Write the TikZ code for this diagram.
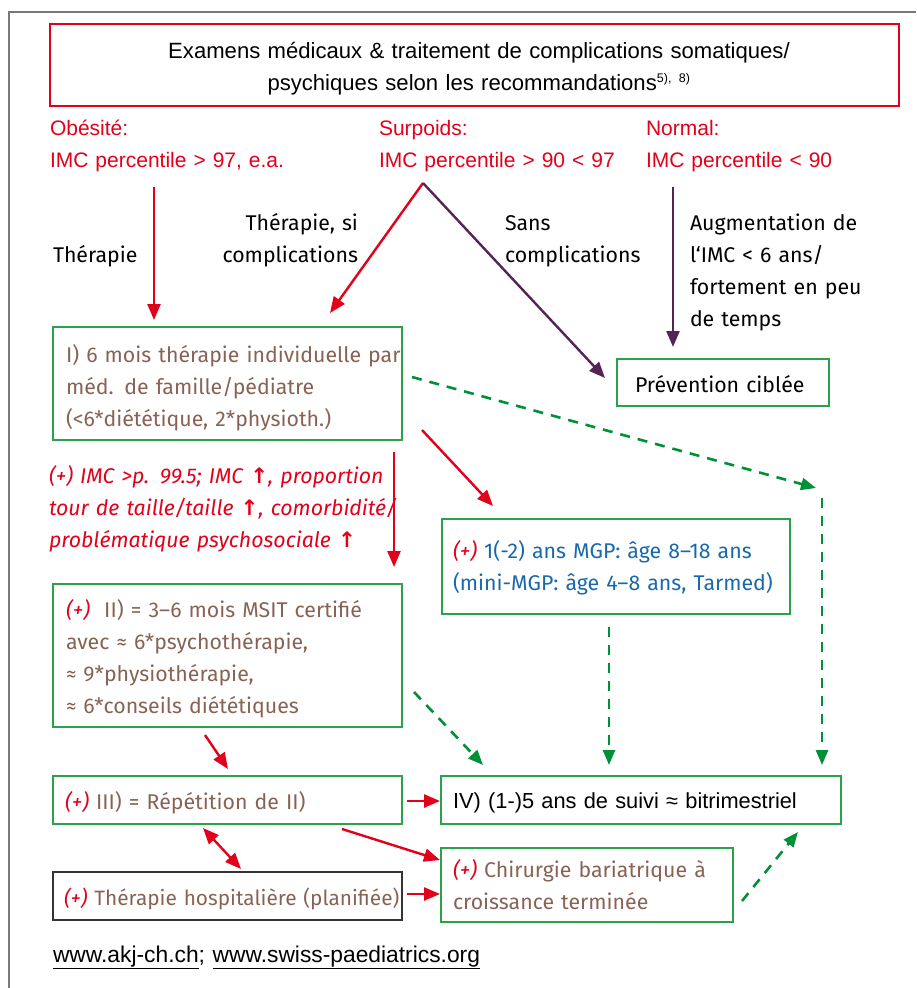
\documentclass[tikz,border=0pt]{standalone}
\usepackage{fontspec}
\setmainfont{Liberation Sans}
\newfontfamily\boxfont{Fira Sans}
\newfontfamily\symfont{DejaVu Sans}
\usetikzlibrary{arrows.meta,calc}
\definecolor{cred}{RGB}{226,0,26}
\definecolor{cbrown}{RGB}{136,98,84}
\definecolor{cblue}{RGB}{25,105,170}
\definecolor{cgreen}{RGB}{45,160,75}
\definecolor{cdgreen}{RGB}{0,145,55}
\definecolor{cpurple}{RGB}{85,35,85}
\definecolor{cframe}{RGB}{120,120,120}
\newcommand{\plus}{{\color{cred}\itshape(+)}}
\newcommand{\uparr}{{\symfont\bfseries ↑}}
\begin{document}
\begin{tikzpicture}[x=1pt,y=-1pt,
  every node/.style={inner sep=0pt,outer sep=0pt},
  tip/.style={-{Triangle[length=16pt,width=13pt]}},
  redarr/.style={draw=cred,line width=2.4pt,tip},
  purarr/.style={draw=cpurple,line width=2.4pt,tip},
  gdash/.style={draw=cdgreen,line width=2.6pt,dash pattern=on 10pt off 8pt,-{Triangle[length=15pt,width=12pt,sep=0pt]}},
  gbox/.style={draw=cgreen,line width=1.4pt},
  kbox/.style={draw=black!80,line width=1.4pt},
  rbox/.style={draw=cred,line width=1.4pt},
  hfont/.style={font=\fontsize{21}{32}\selectfont},
  bfont/.style={font=\boxfont\fontsize{21.3}{32}\selectfont},
  lbl/.style={bfont,anchor=base west,align=left,text width=440pt},
  lblr/.style={bfont,anchor=base east,align=right,text width=300pt},
  hlbl/.style={hfont,anchor=base west,align=left,text width=300pt,text=cred}
]
\useasboundingbox (0,0) rectangle (916,988);
% outer frame
\draw[cframe,line width=2pt] (916,12) -- (9,12) -- (9,988);
% boxes
\node[rbox,minimum width=849pt,minimum height=82pt] (title) at (474.5,65) {};
\node[gbox,minimum width=349pt,minimum height=113pt] (b1) at (227.5,383.5) {};
\node[gbox,minimum width=212pt,minimum height=47pt] (prev) at (723,382.5) {};
\node[gbox,minimum width=348pt,minimum height=95pt] (mgp) at (616,566.5) {};
\node[gbox,minimum width=349pt,minimum height=143pt] (b2) at (227.5,655.5) {};
\node[gbox,minimum width=349pt,minimum height=48pt] (b3) at (227.5,800) {};
\node[gbox,minimum width=400pt,minimum height=48pt] (b4) at (641,800) {};
\node[kbox,minimum width=349pt,minimum height=48pt] (hosp) at (227.5,896) {};
\node[gbox,minimum width=292pt,minimum height=74pt] (chir) at (587,885) {};
% title text
\node[font=\fontsize{22.1}{32}\selectfont,anchor=base,align=center,text width=820pt] (ttl) at (479,58)
  {Examens médicaux \& traitement de complications somatiques/\\psychiques selon les recommandations\textsuperscript{\fontsize{12.5}{12}\selectfont 5), 8)}};
% category labels
\node[hlbl] (obes) at (50,135) {Obésité:\\IMC percentile > 97, e.a.};
\node[hlbl] (surp) at (379,135) {Surpoids:\\IMC percentile > 90 < 97};
\node[hlbl] (norm) at (646,135) {Normal:\\IMC percentile < 90};
% arrow labels
\node[lbl] (lther) at (53,262) {Thérapie};
\node[lblr] (lthsi) at (358,230) {Thérapie, si\\complications};
\node[lbl] (lsans) at (505,230) {Sans\\complications};
\node[lbl] (laug) at (690,230) {Augmentation de\\l‘IMC < 6 ans/\\fortement en peu\\de temps};
% box texts
\node[lbl,text=cbrown] (tb1) at (66,362) {I) 6 mois thérapie individuelle par\\méd. de famille/pédiatre\\(<6*diététique, 2*physioth.)};
\node[lbl] (tprev) at (635,392) {Prévention ciblée};
\node[lbl,text=cred,font=\boxfont\itshape\fontsize{21.3}{32}\selectfont] (tcrit) at (49,483)
  {(+) IMC >p. 99.5; IMC \uparr, proportion\\tour de taille/taille \uparr, comorbidité/\\problématique psychosociale \uparr};
\node[lbl,text=cblue] (tmgp) at (453,558) {\plus{} 1(-2) ans MGP: âge 8–18 ans\\(mini-MGP: âge 4–8 ans, Tarmed)};
\node[lbl,text=cbrown] (tb2) at (66,617) {\plus{}\ \ II) = 3–6 mois MSIT certifié\\avec ≈ 6*psychothérapie,\\≈ 9*physiothérapie,\\≈ 6*conseils diététiques};
\node[lbl,text=cbrown] (tb3) at (65,809) {\plus{} III) = Répétition de II)};
\node[lbl,text=cbrown,font=\boxfont\fontsize{20.8}{32}\selectfont] (thosp) at (64,905) {\plus{} Thérapie hospitalière (planifiée)};
\node[font=\fontsize{21.8}{32}\selectfont,anchor=base west,align=left,text width=440pt] (tb4) at (453,808) {IV) (1-)5 ans de suivi ≈ bitrimestriel};
\node[lbl,text=cbrown] (tchir) at (453,877) {\plus{} Chirurgie bariatrique à\\croissance terminée};
% footer
\node[anchor=base west,align=left,text width=600pt,font=\fontsize{22.8}{32}\selectfont] (foot) at (53,962) {\underline{www.akj-ch.ch}; \underline{www.swiss-paediatrics.org}};
% connectors
\coordinate (obs) at (154,187);
\coordinate (apex) at (423,183);
\coordinate (nrm) at (673,187);
\coordinate (gd1) at (816,488);
\coordinate (gd2) at (822,498);
\draw[redarr,shorten >=7pt] (obs) -- (obs |- b1.north);
\draw[redarr] (apex) -- ($(b1.north)+(102.5,-14)$);
\draw[purarr] (apex) -- ($(prev.west)+(-12,-4.5)$);
\draw[purarr,shorten >=12pt] (nrm) -- (nrm |- prev.north);
\draw[gdash] ($(b1.east)+(10,-6.5)$) -- (gd1);
\draw[gdash,shorten >=11pt] (gd2) -- (gd2 |- b4.north);
\draw[redarr] ($(b1.south east)+(20,-10)$) -- ($(mgp.north west)+(51,-13)$);
\draw[redarr] ($(b1.south east)+(-8,12)$) -- ($(b2.north east)+(-8,-17)$);
\draw[gdash] ($(mgp.south)+(-7,13)$) -- ($(b4.north)+(-32,-11)$);
\draw[gdash] ($(b2.east)+(12,36.5)$) -- ($(b4.north west)+(42,-11)$);
\draw[redarr] ($(b2.south)+(-22.5,8)$) -- ($(b3.north)+(0.5,-7)$);
\draw[redarr] ($(b3.east)+(5,1)$) -- ($(b4.west)+(-1,1)$);
\draw[redarr] ($(b3.south east)+(-60,5)$) -- ($(chir.west)+(-1,-25)$);
\draw[draw=cred,line width=2.4pt,{Triangle[length=16pt,width=13pt]}-{Triangle[length=16pt,width=13pt]}] ($(b3.south)+(-24.5,4)$) -- ($(hosp.north)+(13.5,-3)$);
\draw[redarr] ($(hosp.east)+(5,-2)$) -- ($(chir.west)+(-1,9)$);
\draw[gdash] ($(chir.east)+(9,16)$) -- ($(b4.south east)+(-43,8)$);
\end{tikzpicture}
\end{document}
